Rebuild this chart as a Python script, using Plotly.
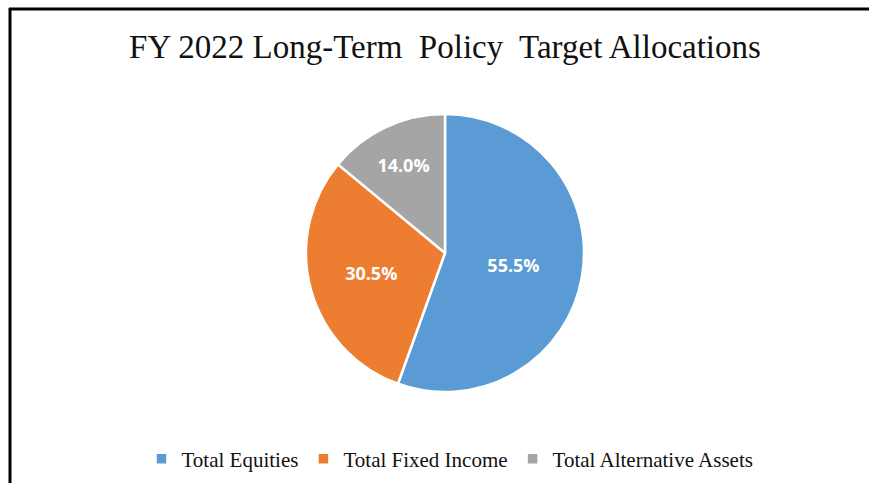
import plotly.graph_objects as go

categories = ["Total Equities", "Total Fixed Income", "Total Alternative Assets"]
values = [55.5, 30.5, 14.0]
colors = ["#5B9BD5", "#ED7D31", "#A5A5A5"]

W, H = 869, 483
cx, cy, r = 445, 253, 139

fig = go.Figure(go.Pie(
    labels=categories,
    values=values,
    sort=False,
    direction="clockwise",
    rotation=0,
    marker=dict(colors=colors, line=dict(color="white", width=2.5)),
    texttemplate="%{value:.1f}%",
    textinfo="text",
    textposition="inside",
    insidetextfont=dict(color="white", size=18, family="Open Sans", weight="bold"),
    insidetextorientation="horizontal",
    hoverinfo="label+percent",
    domain=dict(x=[(cx - r) / W, (cx + r) / W], y=[1 - (cy + r) / H, 1 - (cy - r) / H]),
))

fig.update_layout(
    width=W, height=H,
    margin=dict(l=0, r=0, t=0, b=0),
    paper_bgcolor="white",
    title=dict(
        text="FY 2022 Long-Term&nbsp; Policy&nbsp; Target Allocations",
        x=445 / W, xanchor="center",
        y=1 - 46 / H, yanchor="middle",
        font=dict(family="Liberation Serif", size=33, color="#111111"),
    ),
    showlegend=True,
    legend=dict(
        orientation="h",
        x=450 / W, xanchor="center",
        y=1 - 459 / H, yanchor="middle",
        font=dict(family="Liberation Serif", size=21, color="#111111"),
        itemwidth=30,
        traceorder="normal",
    ),
    shapes=[
        dict(type="line", xref="paper", yref="paper", x0=9 / W, x1=1, y0=1 - 9 / H, y1=1 - 9 / H,
             line=dict(color="black", width=3)),
        dict(type="line", xref="paper", yref="paper", x0=10 / W, x1=10 / W, y0=0, y1=1 - 8 / H,
             line=dict(color="black", width=3)),
    ],
)

fig.write_html("out.html", config={"displayModeBar": False},
               post_script="document.body.style.margin='0';document.body.style.overflow='hidden';")
